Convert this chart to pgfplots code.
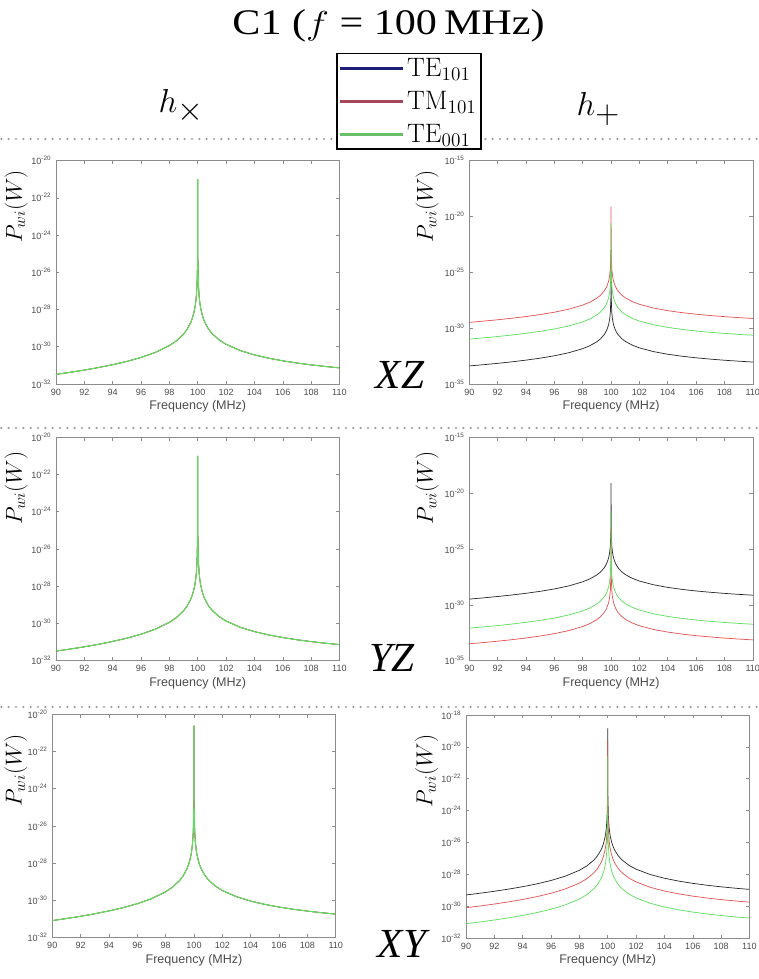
\documentclass[border=0pt]{standalone}
\usepackage{fontspec}
\newfontfamily\tnr{Liberation Serif}
\newfontfamily\sansf{Liberation Sans}
\usepackage{pgfplots}
\usepackage{pgfplotstable}
\pgfplotsset{compat=1.18}

\definecolor{cblk}{RGB}{45,45,45}
\definecolor{cred}{RGB}{228,85,85}
\definecolor{cgrn}{RGB}{95,222,95}
\definecolor{lblue}{RGB}{30,30,120}
\definecolor{lred}{RGB}{165,70,90}
\definecolor{lgrn}{RGB}{105,192,105}

% A = -29.3
\pgfplotstableread{
f y
90 3.288e-32
91 4.243e-32
92 5.610e-32
93 7.651e-32
94 1.087e-31
95 1.633e-31
96 2.661e-31
97 4.930e-31
98 1.156e-30
98.5 2.097e-30
99 4.815e-30
99.25 8.646e-30
99.5 1.965e-29
99.6 3.083e-29
99.7 5.502e-29
99.8 1.243e-28
99.85 2.214e-28
99.9 4.992e-28
99.95 2.001e-27
99.99 5.010e-26
100 1.0e-21
100.01 5.014e-26
100.05 2.009e-27
100.1 5.032e-28
100.15 2.241e-28
100.2 1.263e-28
100.3 5.636e-29
100.4 3.183e-29
100.5 2.045e-29
100.75 9.181e-30
101 5.216e-30
101.5 2.364e-30
102 1.356e-30
103 6.268e-31
104 3.665e-31
105 2.437e-31
106 1.758e-31
107 1.341e-31
108 1.065e-31
109 8.734e-32
110 7.338e-32
}\tabA
% A = -28.9
\pgfplotstableread{
f y
90 8.260e-32
91 1.066e-31
92 1.409e-31
93 1.922e-31
94 2.731e-31
95 4.102e-31
96 6.683e-31
97 1.238e-30
98 2.903e-30
98.5 5.267e-30
99 1.209e-29
99.25 2.172e-29
99.5 4.936e-29
99.6 7.744e-29
99.7 1.382e-28
99.8 3.122e-28
99.85 5.562e-28
99.9 1.254e-27
99.95 5.026e-27
99.99 1.258e-25
100 2.4e-21
100.01 1.260e-25
100.05 5.046e-27
100.1 1.264e-27
100.15 5.629e-28
100.2 3.173e-28
100.3 1.416e-28
100.4 7.995e-29
100.5 5.137e-29
100.75 2.306e-29
101 1.310e-29
101.5 5.939e-30
102 3.407e-30
103 1.575e-30
104 9.205e-31
105 6.121e-31
106 4.415e-31
107 3.368e-31
108 2.676e-31
109 2.194e-31
110 1.843e-31
}\tabB
% A = -27.3
\pgfplotstableread{
f y
90 3.288e-30
91 4.243e-30
92 5.610e-30
93 7.651e-30
94 1.087e-29
95 1.633e-29
96 2.661e-29
97 4.930e-29
98 1.156e-28
98.5 2.097e-28
99 4.815e-28
99.25 8.646e-28
99.5 1.965e-27
99.6 3.083e-27
99.7 5.502e-27
99.8 1.243e-26
99.85 2.214e-26
99.9 4.992e-26
99.95 2.001e-25
99.99 5.010e-24
100 7.8e-20
100.01 5.014e-24
100.05 2.009e-25
100.1 5.032e-26
100.15 2.241e-26
100.2 1.263e-26
100.3 5.636e-27
100.4 3.183e-27
100.5 2.045e-27
100.75 9.181e-28
101 5.216e-28
101.5 2.364e-28
102 1.356e-28
103 6.268e-29
104 3.665e-29
105 2.437e-29
106 1.758e-29
107 1.341e-29
108 1.065e-29
109 8.734e-30
110 7.338e-30
}\tabC
% A = -28.8
\pgfplotstableread{
f y
90 1.040e-31
91 1.342e-31
92 1.774e-31
93 2.420e-31
94 3.438e-31
95 5.164e-31
96 8.414e-31
97 1.559e-30
98 3.655e-30
98.5 6.631e-30
99 1.523e-29
99.25 2.734e-29
99.5 6.214e-29
99.6 9.749e-29
99.7 1.740e-28
99.8 3.931e-28
99.85 7.002e-28
99.9 1.579e-27
99.95 6.327e-27
99.99 1.584e-25
100 2.5e-21
100.01 1.586e-25
100.05 6.353e-27
100.1 1.591e-27
100.15 7.087e-28
100.2 3.994e-28
100.3 1.782e-28
100.4 1.007e-28
100.5 6.468e-29
100.75 2.903e-29
101 1.649e-29
101.5 7.477e-30
102 4.289e-30
103 1.982e-30
104 1.159e-30
105 7.706e-31
106 5.558e-31
107 4.240e-31
108 3.369e-31
109 2.762e-31
110 2.321e-31
}\tabD
% A = -31.2
\pgfplotstableread{
f y
90 4.140e-34
91 5.342e-34
92 7.063e-34
93 9.633e-34
94 1.369e-33
95 2.056e-33
96 3.350e-33
97 6.207e-33
98 1.455e-32
98.5 2.640e-32
99 6.061e-32
99.25 1.088e-31
99.5 2.474e-31
99.6 3.881e-31
99.7 6.927e-31
99.8 1.565e-30
99.85 2.788e-30
99.9 6.285e-30
99.95 2.519e-29
99.99 6.307e-28
100 1.0e-23
100.01 6.313e-28
100.05 2.529e-29
100.1 6.335e-30
100.15 2.821e-30
100.2 1.590e-30
100.3 7.096e-31
100.4 4.007e-31
100.5 2.575e-31
100.75 1.156e-31
101 6.566e-32
101.5 2.977e-32
102 1.708e-32
103 7.891e-33
104 4.614e-33
105 3.068e-33
106 2.213e-33
107 1.688e-33
108 1.341e-33
109 1.100e-33
110 9.239e-34
}\tabE
% A = -29.9
\pgfplotstableread{
f y
90 8.260e-33
91 1.066e-32
92 1.409e-32
93 1.922e-32
94 2.731e-32
95 4.102e-32
96 6.683e-32
97 1.238e-31
98 2.903e-31
98.5 5.267e-31
99 1.209e-30
99.25 2.172e-30
99.5 4.936e-30
99.6 7.744e-30
99.7 1.382e-29
99.8 3.122e-29
99.85 5.562e-29
99.9 1.254e-28
99.95 5.026e-28
99.99 1.258e-26
100 2.2e-22
100.01 1.260e-26
100.05 5.046e-28
100.1 1.264e-28
100.15 5.629e-29
100.2 3.173e-29
100.3 1.416e-29
100.4 7.995e-30
100.5 5.137e-30
100.75 2.306e-30
101 1.310e-30
101.5 5.939e-31
102 3.407e-31
103 1.575e-31
104 9.205e-32
105 6.121e-32
106 4.415e-32
107 3.368e-32
108 2.676e-32
109 2.194e-32
110 1.843e-32
}\tabF
% A = -31.3
\pgfplotstableread{
f y
90 3.288e-34
91 4.243e-34
92 5.610e-34
93 7.651e-34
94 1.087e-33
95 1.633e-33
96 2.661e-33
97 4.930e-33
98 1.156e-32
98.5 2.097e-32
99 4.815e-32
99.25 8.646e-32
99.5 1.965e-31
99.6 3.083e-31
99.7 5.502e-31
99.8 1.243e-30
99.85 2.214e-30
99.9 4.992e-30
99.95 2.001e-29
99.99 5.010e-28
100 8.0e-24
100.01 5.014e-28
100.05 2.009e-29
100.1 5.032e-30
100.15 2.241e-30
100.2 1.263e-30
100.3 5.636e-31
100.4 3.183e-31
100.5 2.045e-31
100.75 9.181e-32
101 5.216e-32
101.5 2.364e-32
102 1.356e-32
103 6.268e-33
104 3.665e-33
105 2.437e-33
106 1.758e-33
107 1.341e-33
108 1.065e-33
109 8.734e-34
110 7.338e-34
}\tabG
% A = -27.1
\pgfplotstableread{
f y
90 5.211e-30
91 6.725e-30
92 8.891e-30
93 1.213e-29
94 1.723e-29
95 2.588e-29
96 4.216e-29
97 7.813e-29
98 1.832e-28
98.5 3.323e-28
99 7.630e-28
99.25 1.370e-27
99.5 3.114e-27
99.6 4.885e-27
99.7 8.720e-27
99.8 1.970e-26
99.85 3.509e-26
99.9 7.911e-26
99.95 3.171e-25
99.99 7.940e-24
100 1.45e-19
100.01 7.946e-24
100.05 3.184e-25
100.1 7.975e-26
100.15 3.552e-26
100.2 2.002e-26
100.3 8.932e-27
100.4 5.044e-27
100.5 3.241e-27
100.75 1.455e-27
101 8.266e-28
101.5 3.747e-28
102 2.149e-28
103 9.934e-29
104 5.808e-29
105 3.862e-29
106 2.786e-29
107 2.125e-29
108 1.689e-29
109 1.384e-29
110 1.163e-29
}\tabH
% A = -27.9
\pgfplotstableread{
f y
90 8.260e-31
91 1.066e-30
92 1.409e-30
93 1.922e-30
94 2.731e-30
95 4.102e-30
96 6.683e-30
97 1.238e-29
98 2.903e-29
98.5 5.267e-29
99 1.209e-28
99.25 2.172e-28
99.5 4.936e-28
99.6 7.744e-28
99.7 1.382e-27
99.8 3.122e-27
99.85 5.562e-27
99.9 1.254e-26
99.95 5.026e-26
99.99 1.258e-24
100 2.7e-20
100.01 1.260e-24
100.05 5.046e-26
100.1 1.264e-26
100.15 5.629e-27
100.2 3.173e-27
100.3 1.416e-27
100.4 7.995e-28
100.5 5.137e-28
100.75 2.306e-28
101 1.310e-28
101.5 5.939e-29
102 3.407e-29
103 1.575e-29
104 9.205e-30
105 6.121e-30
106 4.415e-30
107 3.368e-30
108 2.676e-30
109 2.194e-30
110 1.843e-30
}\tabI

\pgfplotsset{
  every axis/.append style={
    scale only axis, width=212.6pt, height=167.6pt,
    xmin=90, xmax=110,
    xtick={90,92,94,96,98,100,102,104,106,108,110},
    xticklabels={90,92,94,96,98,100,102,104,106,108,110},
    tick align=inside,
    major tick length=2.5pt,
    axis line style={black!45},
    every tick/.append style={black!45, line width=0.4pt},
    ticklabel style={font=\sansf\fontsize{6.8}{8}\selectfont, text=black!70},
    xlabel={Frequency (MHz)},
    xlabel style={font=\sansf\fontsize{9.4}{11}\selectfont, text=black!70},
    ylabel={$P_{wi}(W)$},
    ylabel style={font=\fontsize{18.5}{20}\selectfont},
    every axis plot/.append style={line width=0.55pt},
  },
}

\begin{document}
\begin{tikzpicture}
\useasboundingbox (0,0) rectangle (568.5pt,734.25pt);
% separators
\foreach \yy in {630,413.25,204}{
  \draw[black!38, line width=1.8pt, line cap=round, dash pattern=on 0pt off 5.5pt] (1pt,\yy pt) -- (568pt,\yy pt);
}
% title and headings
\node[anchor=base, xscale=1.17, font=\tnr\fontsize{27}{30}\selectfont] at (291.4pt,708pt) {C1 ($f$ = 100\,MHz)};
\node[anchor=base west, font=\fontsize{37}{40}\selectfont] at (115.5pt,649.5pt) {$h_\times$};
\node[anchor=base west, font=\fontsize{37}{40}\selectfont] at (429pt,647.25pt) {$h_+$};
\node[font=\tnr\itshape\fontsize{31}{33}\selectfont] at (300pt,453pt) {XZ};
\node[font=\tnr\itshape\fontsize{31}{33}\selectfont] at (294pt,240.75pt) {YZ};
\node[font=\tnr\itshape\fontsize{31}{33}\selectfont] at (301.5pt,26.25pt) {XY};

% Row 1 left
\begin{axis}[at={(42pt,446.25pt)}, anchor=south west, ymode=log,
  ymin=1e-32, ymax=1e-20,
  ytick={1e-32,1e-30,1e-28,1e-26,1e-24,1e-22,1e-20},
  yticklabels={10\textsuperscript{-32},10\textsuperscript{-30},10\textsuperscript{-28},10\textsuperscript{-26},10\textsuperscript{-24},10\textsuperscript{-22},10\textsuperscript{-20}},
  ylabel style={at={(axis description cs:-0.141,0.795)}, anchor=center},
  xlabel style={at={(axis description cs:0.5,-0.1)}, anchor=center}]
\addplot[cblk] table[x=f,y=y]{\tabA};
\addplot[cred] table[x=f,y=y]{\tabA};
\addplot[cgrn, line width=0.8pt] table[x=f,y=y]{\tabA};
\end{axis}
% Row 1 right
\begin{axis}[at={(352pt,446.25pt)}, anchor=south west, ymode=log,
  ymin=1e-35, ymax=1e-15,
  ytick={1e-35,1e-30,1e-25,1e-20,1e-15},
  yticklabels={10\textsuperscript{-35},10\textsuperscript{-30},10\textsuperscript{-25},10\textsuperscript{-20},10\textsuperscript{-15}},
  ylabel style={at={(axis description cs:-0.149,0.795)}, anchor=center},
  xlabel style={at={(axis description cs:0.5,-0.1)}, anchor=center},
  legend style={at={(axis description cs:-0.470,1.482)}, anchor=north west, draw=black, line width=1.2pt, fill=white,
    font=\fontsize{20}{22}\selectfont, inner sep=1.5pt, row sep=5.5pt},
  legend cell align=left,
  legend image code/.code={\draw[line width=2.2pt,#1] (0pt,0pt) -- (47pt,0pt);}]
\addlegendimage{lblue}\addlegendentry{TE$_{101}$}
\addlegendimage{lred}\addlegendentry{TM$_{101}$}
\addlegendimage{lgrn}\addlegendentry{TE$_{001}$}
\addplot[cblk, forget plot] table[x=f,y=y]{\tabE};
\addplot[cred, forget plot] table[x=f,y=y]{\tabC};
\addplot[cgrn, forget plot] table[x=f,y=y]{\tabD};
\end{axis}
% Row 2 left
\begin{axis}[at={(42pt,238.7pt)}, anchor=south west, ymode=log,
  ymin=1e-32, ymax=1e-20,
  ytick={1e-32,1e-30,1e-28,1e-26,1e-24,1e-22,1e-20},
  yticklabels={10\textsuperscript{-32},10\textsuperscript{-30},10\textsuperscript{-28},10\textsuperscript{-26},10\textsuperscript{-24},10\textsuperscript{-22},10\textsuperscript{-20}},
  ylabel style={at={(axis description cs:-0.141,0.773)}, anchor=center},
  xlabel style={at={(axis description cs:0.5,-0.1)}, anchor=center}]
\addplot[cblk] table[x=f,y=y]{\tabA};
\addplot[cred] table[x=f,y=y]{\tabA};
\addplot[cgrn, line width=0.8pt] table[x=f,y=y]{\tabA};
\end{axis}
% Row 2 right
\begin{axis}[at={(352pt,238.7pt)}, anchor=south west, ymode=log,
  ymin=1e-35, ymax=1e-15,
  ytick={1e-35,1e-30,1e-25,1e-20,1e-15},
  yticklabels={10\textsuperscript{-35},10\textsuperscript{-30},10\textsuperscript{-25},10\textsuperscript{-20},10\textsuperscript{-15}},
  ylabel style={at={(axis description cs:-0.149,0.773)}, anchor=center},
  xlabel style={at={(axis description cs:0.5,-0.1)}, anchor=center}]
\addplot[cblk] table[x=f,y=y]{\tabC};
\addplot[cred] table[x=f,y=y]{\tabG};
\addplot[cgrn] table[x=f,y=y]{\tabF};
\end{axis}
% Row 3 left
\begin{axis}[at={(39.2pt,31pt)}, anchor=south west, ymode=log,
  ymin=1e-32, ymax=1e-20,
  ytick={1e-32,1e-30,1e-28,1e-26,1e-24,1e-22,1e-20},
  yticklabels={10\textsuperscript{-32},10\textsuperscript{-30},10\textsuperscript{-28},10\textsuperscript{-26},10\textsuperscript{-24},10\textsuperscript{-22},10\textsuperscript{-20}},
  ylabel style={at={(axis description cs:-0.128,0.748)}, anchor=center},
  xlabel style={at={(axis description cs:0.5,-0.1)}, anchor=center}]
\addplot[cblk] table[x=f,y=y]{\tabB};
\addplot[cred] table[x=f,y=y]{\tabB};
\addplot[cgrn, line width=0.8pt] table[x=f,y=y]{\tabB};
\end{axis}
% Row 3 right
\begin{axis}[at={(349.5pt,30.5pt)}, anchor=south west, ymode=log,
  ymin=1e-32, ymax=1e-18,
  ytick={1e-32,1e-30,1e-28,1e-26,1e-24,1e-22,1e-20,1e-18},
  yticklabels={10\textsuperscript{-32},10\textsuperscript{-30},10\textsuperscript{-28},10\textsuperscript{-26},10\textsuperscript{-24},10\textsuperscript{-22},10\textsuperscript{-20},10\textsuperscript{-18}},
  ylabel style={at={(axis description cs:-0.139,0.748)}, anchor=center},
  xlabel style={at={(axis description cs:0.5,-0.1)}, anchor=center}]
\addplot[cblk] table[x=f,y=y]{\tabH};
\addplot[cred] table[x=f,y=y]{\tabI};
\addplot[cgrn] table[x=f,y=y]{\tabB};
\end{axis}
\end{tikzpicture}
\end{document}
